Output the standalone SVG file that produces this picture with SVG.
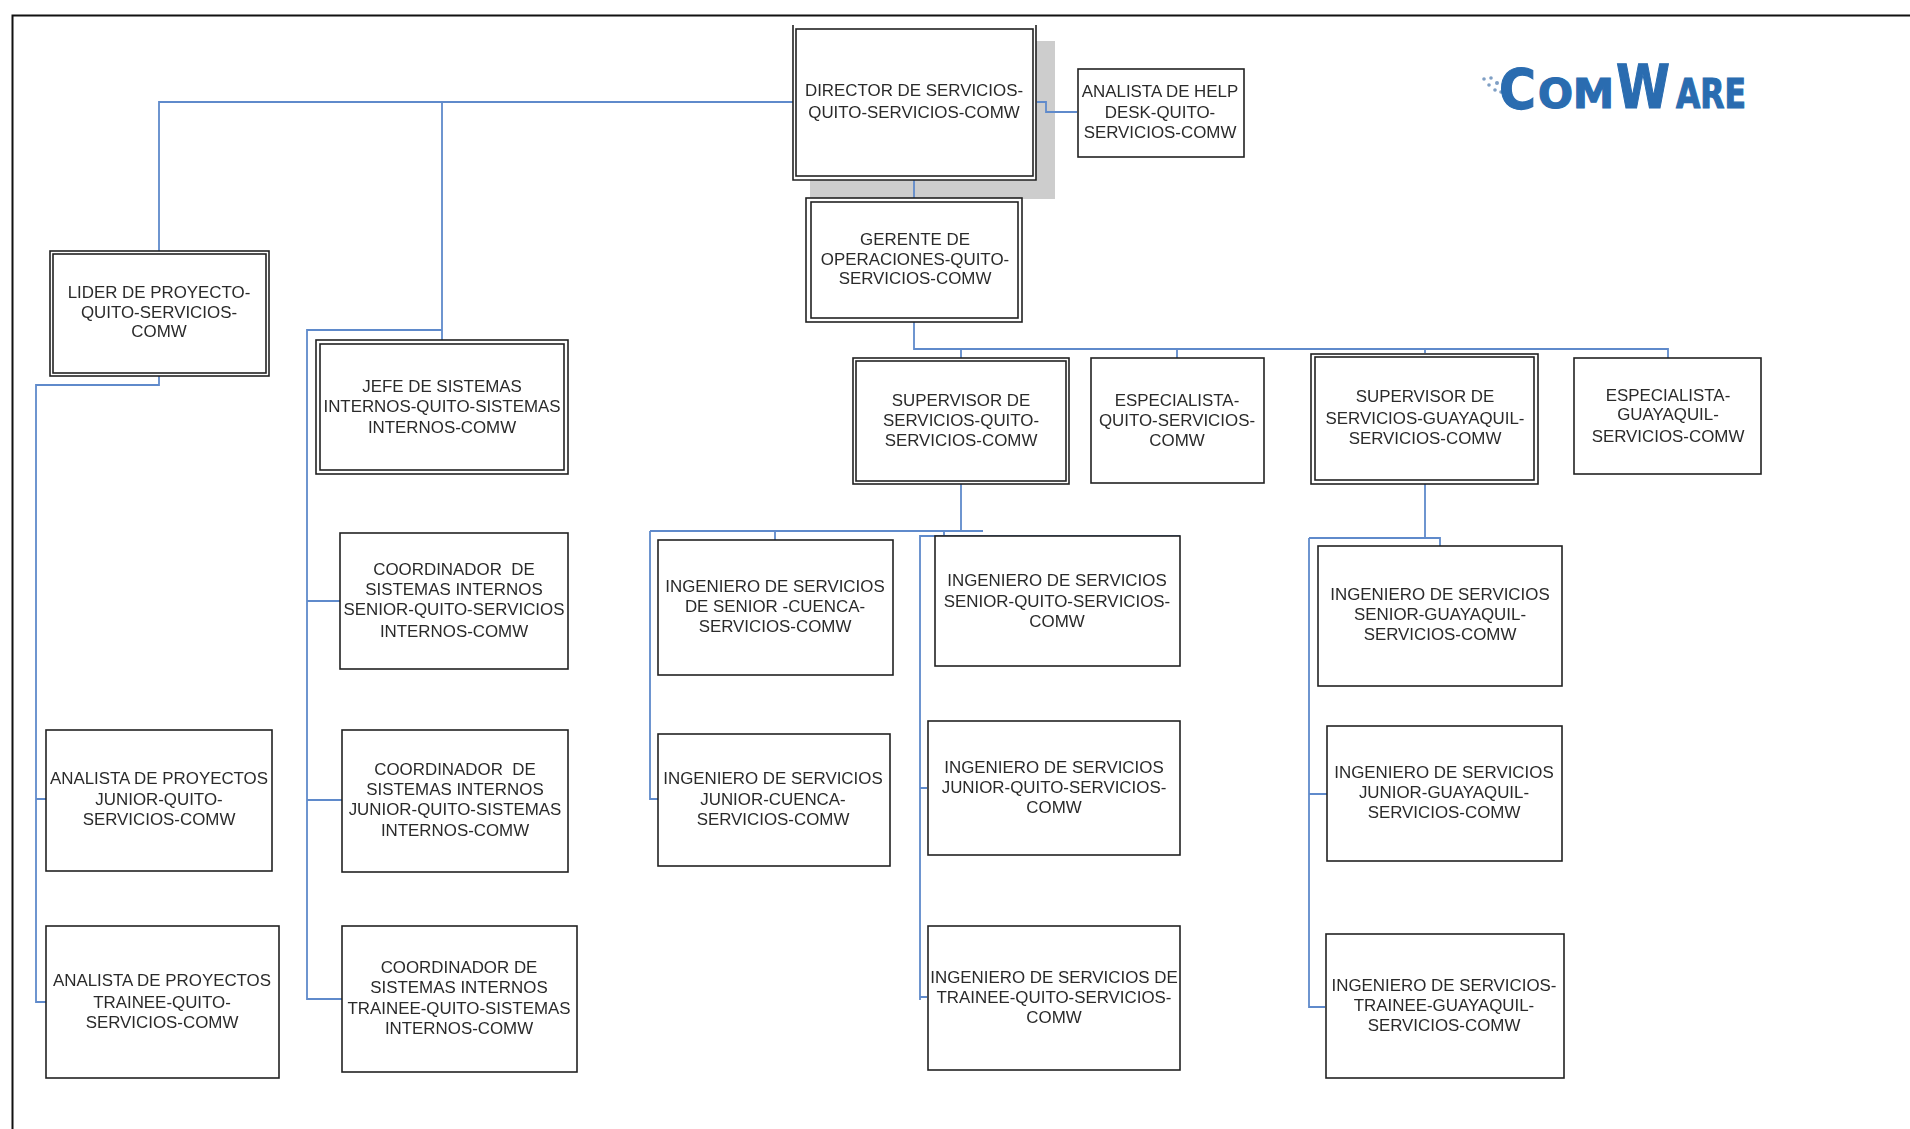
<svg xmlns="http://www.w3.org/2000/svg" width="1910" height="1129" viewBox="0 0 1910 1129">
<style>
.b{fill:#fff;stroke:#222;stroke-width:1.6}
.t{font-family:"Liberation Sans",Arial,sans-serif;font-size:16.9px;fill:#2a2a2a;text-anchor:middle;white-space:pre;filter:url(#soft)}
.c{fill:none;stroke:#5f8acb;stroke-width:1.8}
.logo{font-family:"DejaVu Sans",sans-serif;font-weight:bold;fill:#2a6cb0;stroke:#2a6cb0;stroke-width:1.2}
</style>
<defs><filter id="soft" x="-5%" y="-5%" width="110%" height="110%"><feGaussianBlur stdDeviation="0.35"/></filter></defs>
<rect width="1910" height="1129" fill="#fff"/>
<path d="M12.500 1129V15.500H1910" fill="none" stroke="#111" stroke-width="2"/>
<rect x="810" y="41" width="245" height="158" fill="#cdcdcd"/>
<g id="connectors" class="c">
<path class="c" d="M793 102H159V251M442 102V340M442 330H307V999H342M307 601H340M307 800H342"/>
<path class="c" d="M159 376V385H36V1002H46M36 799H46"/>
<path class="c" d="M1037 102H1046V112H1077"/>
<path class="c" d="M914 180V198M914 322V349H1668V358M961 349V358M1177 349V358M1425 349V353"/>
<path class="c" d="M961 484V531M650 531H983M775 531V540M650 531V799H658"/>
<path class="c" d="M944 531V539M920 1000V536H1180M920 788H927M920 997H927"/>
<path class="c" d="M1425 484V538M1309 538H1440V546M1309 538V1007H1325M1309 794H1327"/>
</g>
<g id="n-director"><path class="b" d="M793 25V180H1036V25" /><rect class="b" x="796" y="29" width="237" height="147"/><text class="t"><tspan x="914" y="96">DIRECTOR DE SERVICIOS-</tspan><tspan x="914" y="118">QUITO-SERVICIOS-COMW</tspan></text></g>
<g id="n-help"><rect class="b" x="1078" y="69" width="166" height="88"/><text class="t"><tspan x="1160" y="97">ANALISTA DE HELP</tspan><tspan x="1160" y="118">DESK-QUITO-</tspan><tspan x="1160" y="138">SERVICIOS-COMW</tspan></text></g>
<g id="n-gerente"><rect class="b" x="806" y="198" width="216" height="124"/><rect class="b" x="811" y="202" width="207" height="116"/><text class="t"><tspan x="915" y="245">GERENTE DE</tspan><tspan x="915" y="265">OPERACIONES-QUITO-</tspan><tspan x="915" y="284">SERVICIOS-COMW</tspan></text></g>
<g id="n-lider"><rect class="b" x="50" y="251" width="219" height="125"/><rect class="b" x="53" y="254" width="213" height="119"/><text class="t"><tspan x="159" y="298">LIDER DE PROYECTO-</tspan><tspan x="159" y="318">QUITO-SERVICIOS-</tspan><tspan x="159" y="337">COMW</tspan></text></g>
<g id="n-jefe"><rect class="b" x="316" y="340" width="252" height="134"/><rect class="b" x="320" y="344" width="244" height="126"/><text class="t"><tspan x="442" y="392">JEFE DE SISTEMAS</tspan><tspan x="442" y="412">INTERNOS-QUITO-SISTEMAS</tspan><tspan x="442" y="433">INTERNOS-COMW</tspan></text></g>
<g id="n-coord-senior"><rect class="b" x="340" y="533" width="228" height="136"/><text class="t"><tspan x="454" y="575">COORDINADOR  DE</tspan><tspan x="454" y="595">SISTEMAS INTERNOS</tspan><tspan x="454" y="615">SENIOR-QUITO-SERVICIOS</tspan><tspan x="454" y="637">INTERNOS-COMW</tspan></text></g>
<g id="n-coord-junior"><rect class="b" x="342" y="730" width="226" height="142"/><text class="t"><tspan x="455" y="775">COORDINADOR  DE</tspan><tspan x="455" y="795">SISTEMAS INTERNOS</tspan><tspan x="455" y="815">JUNIOR-QUITO-SISTEMAS</tspan><tspan x="455" y="836">INTERNOS-COMW</tspan></text></g>
<g id="n-coord-trainee"><rect class="b" x="342" y="926" width="235" height="146"/><text class="t"><tspan x="459" y="973">COORDINADOR DE</tspan><tspan x="459" y="993">SISTEMAS INTERNOS</tspan><tspan x="459" y="1014">TRAINEE-QUITO-SISTEMAS</tspan><tspan x="459" y="1034">INTERNOS-COMW</tspan></text></g>
<g id="n-analista-junior"><rect class="b" x="46" y="730" width="226" height="141"/><text class="t"><tspan x="159" y="784">ANALISTA DE PROYECTOS</tspan><tspan x="159" y="805">JUNIOR-QUITO-</tspan><tspan x="159" y="825">SERVICIOS-COMW</tspan></text></g>
<g id="n-analista-trainee"><rect class="b" x="46" y="926" width="233" height="152"/><text class="t"><tspan x="162" y="986">ANALISTA DE PROYECTOS</tspan><tspan x="162" y="1008">TRAINEE-QUITO-</tspan><tspan x="162" y="1028">SERVICIOS-COMW</tspan></text></g>
<g id="n-sup-quito"><rect class="b" x="853" y="358" width="216" height="126"/><rect class="b" x="856" y="361" width="210" height="120"/><text class="t"><tspan x="961" y="406">SUPERVISOR DE</tspan><tspan x="961" y="426">SERVICIOS-QUITO-</tspan><tspan x="961" y="446">SERVICIOS-COMW</tspan></text></g>
<g id="n-esp-quito"><rect class="b" x="1091" y="358" width="173" height="125"/><text class="t"><tspan x="1177" y="406">ESPECIALISTA-</tspan><tspan x="1177" y="426">QUITO-SERVICIOS-</tspan><tspan x="1177" y="446">COMW</tspan></text></g>
<g id="n-sup-guay"><rect class="b" x="1311" y="354" width="227" height="130"/><rect class="b" x="1315" y="357" width="219" height="123"/><text class="t"><tspan x="1425" y="402">SUPERVISOR DE</tspan><tspan x="1425" y="424">SERVICIOS-GUAYAQUIL-</tspan><tspan x="1425" y="444">SERVICIOS-COMW</tspan></text></g>
<g id="n-esp-guay"><rect class="b" x="1574" y="358" width="187" height="116"/><text class="t"><tspan x="1668" y="401">ESPECIALISTA-</tspan><tspan x="1668" y="420">GUAYAQUIL-</tspan><tspan x="1668" y="442">SERVICIOS-COMW</tspan></text></g>
<g id="n-ing-sc"><rect class="b" x="658" y="540" width="235" height="135"/><text class="t"><tspan x="775" y="592">INGENIERO DE SERVICIOS</tspan><tspan x="775" y="612">DE SENIOR -CUENCA-</tspan><tspan x="775" y="632">SERVICIOS-COMW</tspan></text></g>
<g id="n-ing-jc"><rect class="b" x="658" y="734" width="232" height="132"/><text class="t"><tspan x="773" y="784">INGENIERO DE SERVICIOS</tspan><tspan x="773" y="805">JUNIOR-CUENCA-</tspan><tspan x="773" y="825">SERVICIOS-COMW</tspan></text></g>
<g id="n-ing-sq"><rect class="b" x="935" y="536" width="245" height="130"/><text class="t"><tspan x="1057" y="586">INGENIERO DE SERVICIOS</tspan><tspan x="1057" y="607">SENIOR-QUITO-SERVICIOS-</tspan><tspan x="1057" y="627">COMW</tspan></text></g>
<g id="n-ing-jq"><rect class="b" x="928" y="721" width="252" height="134"/><text class="t"><tspan x="1054" y="773">INGENIERO DE SERVICIOS</tspan><tspan x="1054" y="793">JUNIOR-QUITO-SERVICIOS-</tspan><tspan x="1054" y="813">COMW</tspan></text></g>
<g id="n-ing-tq"><rect class="b" x="928" y="926" width="252" height="144"/><text class="t"><tspan x="1054" y="983">INGENIERO DE SERVICIOS DE</tspan><tspan x="1054" y="1003">TRAINEE-QUITO-SERVICIOS-</tspan><tspan x="1054" y="1023">COMW</tspan></text></g>
<g id="n-ing-sg"><rect class="b" x="1318" y="546" width="244" height="140"/><text class="t"><tspan x="1440" y="600">INGENIERO DE SERVICIOS</tspan><tspan x="1440" y="620">SENIOR-GUAYAQUIL-</tspan><tspan x="1440" y="640">SERVICIOS-COMW</tspan></text></g>
<g id="n-ing-jg"><rect class="b" x="1327" y="726" width="235" height="135"/><text class="t"><tspan x="1444" y="778">INGENIERO DE SERVICIOS</tspan><tspan x="1444" y="798">JUNIOR-GUAYAQUIL-</tspan><tspan x="1444" y="818">SERVICIOS-COMW</tspan></text></g>
<g id="n-ing-tg"><rect class="b" x="1326" y="934" width="238" height="144"/><text class="t"><tspan x="1444" y="991">INGENIERO DE SERVICIOS-</tspan><tspan x="1444" y="1011">TRAINEE-GUAYAQUIL-</tspan><tspan x="1444" y="1031">SERVICIOS-COMW</tspan></text></g>
<g id="logo">
<g fill="#7f9fc4"><circle cx="1484" cy="79" r="1.800"/><circle cx="1489" cy="85" r="1.800"/><circle cx="1491" cy="78" r="1.800"/><circle cx="1495" cy="90" r="1.800"/><circle cx="1497" cy="83" r="2"/><circle cx="1501" cy="92" r="1.800"/></g>
<text class="logo" y="108"><tspan x="1499" font-size="56" textLength="37" lengthAdjust="spacingAndGlyphs">C</tspan><tspan x="1538" font-size="40" textLength="76" lengthAdjust="spacingAndGlyphs">OM</tspan><tspan x="1616" font-size="60" textLength="54" lengthAdjust="spacingAndGlyphs">W</tspan><tspan x="1676" font-size="40" textLength="70" lengthAdjust="spacingAndGlyphs">ARE</tspan></text>
</g>
</svg>
